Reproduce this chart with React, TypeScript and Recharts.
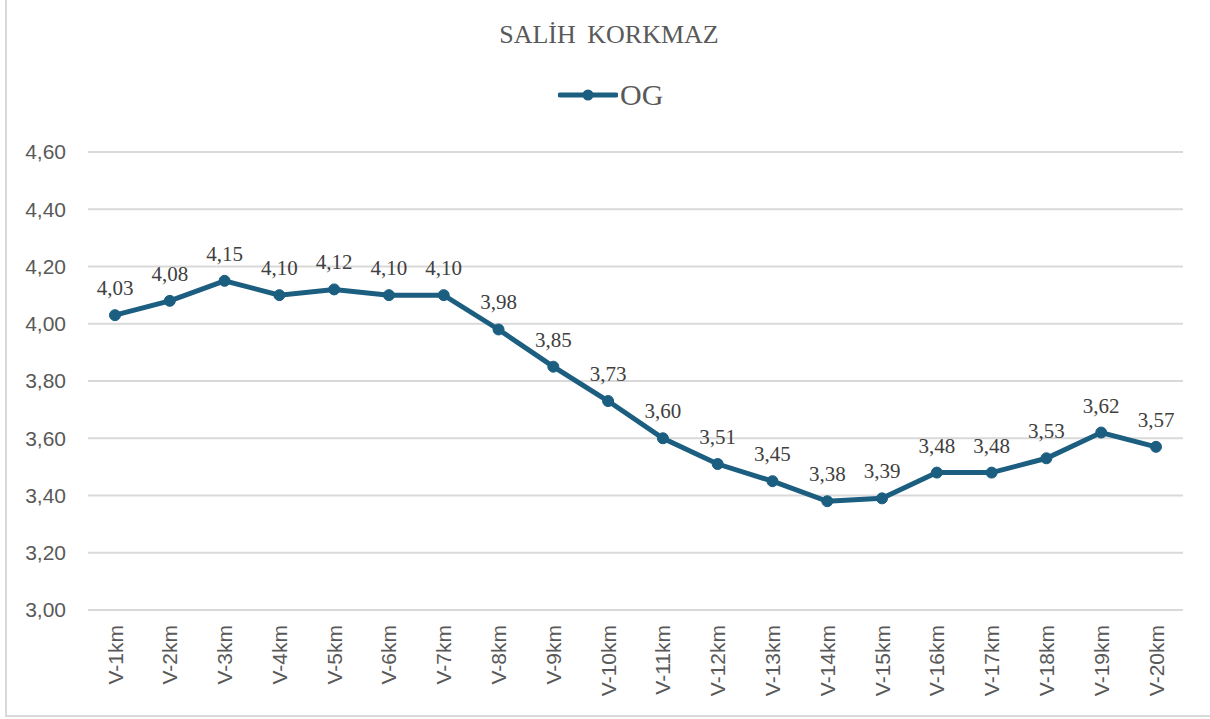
import { LineChart, Line, XAxis, YAxis, CartesianGrid } from 'recharts';

// values
const categories = [
  'V-1km', 'V-2km', 'V-3km', 'V-4km', 'V-5km', 'V-6km', 'V-7km', 'V-8km', 'V-9km', 'V-10km',
  'V-11km', 'V-12km', 'V-13km', 'V-14km', 'V-15km', 'V-16km', 'V-17km', 'V-18km', 'V-19km', 'V-20km',
];
const ogValues = [
  4.03, 4.08, 4.15, 4.10, 4.12, 4.10, 4.10, 3.98, 3.85, 3.73,
  3.60, 3.51, 3.45, 3.38, 3.39, 3.48, 3.48, 3.53, 3.62, 3.57,
];
const yTicks = [3.0, 3.2, 3.4, 3.6, 3.8, 4.0, 4.2, 4.4, 4.6];

const data = categories.map((name, i) => ({ name, og: ogValues[i] }));

const LINE_COLOR = '#1B5E80';
const fmt = (v: number) => v.toFixed(2).replace('.', ',');

const XTick = ({ x, y, payload }: any) => (
  <text
    x={x}
    y={y}
    transform={`rotate(-90, ${x}, ${y})`}
    textAnchor="end"
    dominantBaseline="central"
    fontFamily="'Liberation Sans', Arial, sans-serif"
    fontSize={21}
    fill="#595959"
  >
    {payload.value}
  </text>
);

const PointLabel = ({ x, y, value }: any) => (
  <text
    x={x}
    y={y - 20}
    textAnchor="middle"
    fontFamily="'Liberation Serif', 'Times New Roman', serif"
    fontSize={21}
    fill="#404040"
  >
    {fmt(value)}
  </text>
);

export default function App() {
  return (
    <div
      style={{
        position: 'absolute',
        left: 0,
        top: 0,
        width: 1210,
        height: 719,
        background: '#fff',
      }}
    >
      {/* chart frame: only left and bottom edges show in the reference */}
      <div
        style={{
          position: 'absolute',
          left: 5,
          top: 0,
          width: 1210,
          height: 715,
          borderLeft: '2px solid #d9d9d9',
          borderBottom: '2px solid #d9d9d9',
        }}
      />
      <div
        style={{
          position: 'absolute',
          left: 0,
          width: 1218,
          top: 20,
          textAlign: 'center',
          fontFamily: "'Liberation Serif', 'Times New Roman', serif",
          fontSize: 26,
          wordSpacing: 5,
          color: '#595959',
        }}
      >
        SALİH KORKMAZ
      </div>
      <div
        style={{
          position: 'absolute',
          left: 558,
          top: 78,
          display: 'flex',
          alignItems: 'center',
          fontFamily: "'Liberation Serif', 'Times New Roman', serif",
          fontSize: 30,
          color: '#595959',
        }}
      >
        <svg width={60} height={20}>
          <line x1={2} y1={10} x2={58} y2={10} stroke={LINE_COLOR} strokeWidth={5} strokeLinecap="round" />
          <circle cx={30} cy={10} r={5.5} fill={LINE_COLOR} />
        </svg>
        <span style={{ marginLeft: 2 }}>OG</span>
      </div>
      <div style={{ position: 'absolute', left: 0, top: 0 }}>
        <LineChart
          width={1210}
          height={719}
          data={data}
          margin={{ top: 152, right: 27, left: 0, bottom: 0 }}
        >
          <CartesianGrid vertical={false} stroke="#d9d9d9" strokeWidth={2} />
          <XAxis
            dataKey="name"
            interval={0}
            height={109}
            padding={{ left: 27, right: 27 }}
            tickLine={false}
            axisLine={{ stroke: '#d9d9d9', strokeWidth: 2 }}
            tickSize={0}
            tickMargin={15}
            tick={<XTick />}
          />
          <YAxis
            domain={[3, 4.6]}
            ticks={yTicks}
            width={88}
            axisLine={false}
            tickLine={false}
            tickSize={0}
            tickMargin={22}
            tickFormatter={fmt}
            tick={{ fontFamily: "'Liberation Sans', Arial, sans-serif", fontSize: 21, fill: '#595959' }}
          />
          <Line
            type="linear"
            dataKey="og"
            stroke={LINE_COLOR}
            strokeWidth={5}
            dot={{ r: 5.5, fill: LINE_COLOR, stroke: LINE_COLOR, strokeWidth: 1 }}
            activeDot={false}
            label={<PointLabel />}
            isAnimationActive={false}
          />
        </LineChart>
      </div>
    </div>
  );
}
